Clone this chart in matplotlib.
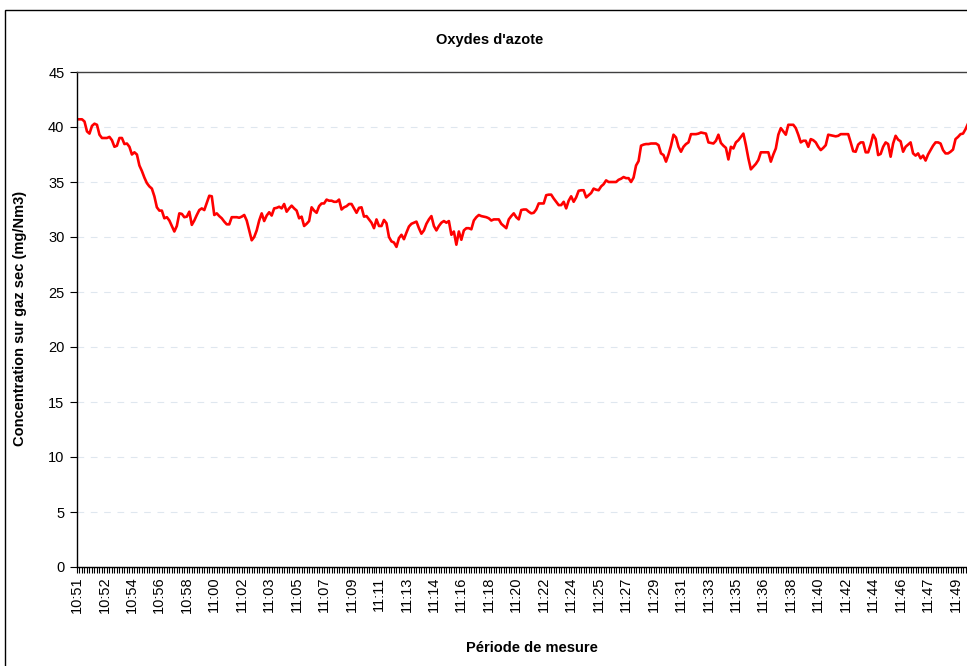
import numpy as np
import matplotlib
matplotlib.use("Agg")
import matplotlib.pyplot as plt
from matplotlib.patches import Rectangle

plt.rcParams['font.family'] = ['Liberation Sans', 'DejaVu Sans']

title = "Oxydes d'azote"
y_label = "Concentration sur gaz sec (mg/Nm3)"
x_label = "Période de mesure"

tick_labels = ["10:51", "10:52", "10:54", "10:56", "10:58", "11:00", "11:02", "11:03",
               "11:05", "11:07", "11:09", "11:11", "11:13", "11:14", "11:16", "11:18",
               "11:20", "11:22", "11:24", "11:25", "11:27", "11:29", "11:31", "11:33",
               "11:35", "11:36", "11:38", "11:40", "11:42", "11:44", "11:46", "11:47",
               "11:49"]
label_every = 11

nox = [
    40.7, 40.7, 40.7, 40.5, 39.6, 39.4, 40.1, 40.3, 40.2, 39.3,
    39.0, 39.0, 39.0, 39.1, 38.8, 38.2, 38.3, 39.0, 39.0, 38.45,
    38.5, 38.2, 37.5, 37.7, 37.5, 36.5, 36.0, 35.4, 34.9, 34.6,
    34.4, 33.7, 32.7, 32.4, 32.4, 31.7, 31.8, 31.5, 31.0, 30.5,
    31.0, 32.15, 32.1, 31.8, 31.85, 32.3, 31.1, 31.5, 32.0, 32.45,
    32.6, 32.45, 33.1, 33.75, 33.7, 32.0, 32.15, 31.9, 31.7, 31.4,
    31.15, 31.15, 31.8, 31.8, 31.8, 31.75, 31.85, 32.0, 31.5, 30.6,
    29.7, 30.0, 30.6, 31.5, 32.15, 31.45, 31.95, 32.25, 31.95, 32.6,
    32.65, 32.75, 32.6, 33.0, 32.3, 32.6, 32.85, 32.6, 32.4, 31.7,
    31.85, 31.0, 31.2, 31.45, 32.7, 32.4, 32.2, 32.8, 33.05, 33.05,
    33.4, 33.3, 33.3, 33.2, 33.2, 33.4, 32.5, 32.7, 32.8, 33.0,
    33.0, 32.6, 32.2, 32.65, 32.7, 31.85, 31.9, 31.6, 31.3, 30.8,
    31.6, 31.0, 31.0, 31.55, 31.25, 30.0, 29.6, 29.5, 29.1, 29.9,
    30.2, 29.8, 30.4, 30.95, 31.2, 31.3, 31.4, 30.8, 30.3, 30.6,
    31.2, 31.6, 31.9, 31.0, 30.6, 31.0, 31.3, 31.45, 31.3, 31.45,
    30.2, 30.5, 29.3, 30.5, 29.75, 30.6, 30.8, 30.8, 30.7, 31.5,
    31.8, 32.0, 31.9, 31.85, 31.8, 31.7, 31.5, 31.6, 31.6, 31.6,
    31.2, 31.0, 30.8, 31.6, 31.9, 32.15, 31.8, 31.6, 32.45, 32.5,
    32.5, 32.3, 32.15, 32.2, 32.5, 33.05, 33.05, 33.05, 33.8, 33.85,
    33.85, 33.5, 33.2, 32.9, 32.9, 33.2, 32.6, 33.3, 33.7, 33.2,
    33.6, 34.2, 34.25, 34.25, 33.6, 33.8, 34.0, 34.4, 34.3, 34.25,
    34.6, 34.8, 35.15, 35.0, 35.0, 35.0, 35.0, 35.2, 35.3, 35.45,
    35.35, 35.35, 35.0, 35.4, 36.5, 36.9, 38.3, 38.4, 38.45, 38.45,
    38.5, 38.5, 38.5, 38.35, 37.6, 37.45, 36.85, 37.5, 38.3, 39.3,
    39.05, 38.2, 37.75, 38.2, 38.45, 38.6, 39.35, 39.35, 39.35, 39.4,
    39.5, 39.45, 39.4, 38.6, 38.55, 38.5, 38.75, 39.3, 38.55, 38.3,
    38.1, 37.05, 38.2, 38.05, 38.6, 38.8, 39.1, 39.4, 38.35, 37.15,
    36.15, 36.4, 36.65, 37.0, 37.7, 37.7, 37.7, 37.7, 36.85, 37.5,
    38.05, 39.3, 39.9, 39.6, 39.3, 40.2, 40.2, 40.2, 39.9, 39.3,
    38.6, 38.75, 38.75, 38.2, 38.9, 38.8, 38.6, 38.2, 37.9, 38.1,
    38.35, 39.3, 39.25, 39.2, 39.15, 39.2, 39.35, 39.35, 39.35, 39.35,
    38.6, 37.8, 37.75, 38.4, 38.6, 38.6, 37.7, 37.7, 38.4, 39.3,
    38.9, 37.45, 37.55, 38.2, 38.6, 38.45, 37.3, 38.5, 39.2, 38.85,
    38.7, 37.75, 38.2, 38.4, 38.6, 37.6, 37.4, 37.6, 37.15, 37.4,
    36.95, 37.5, 37.9, 38.3, 38.6, 38.6, 38.5, 37.9, 37.6, 37.6,
    37.75, 37.95, 38.9, 39.1, 39.35, 39.4, 39.8, 40.3,
]

W, H = 967, 666
fig = plt.figure(figsize=(W / 100, H / 100), dpi=100)
fig.patch.set_facecolor('white')

# chart-area border
fig.patches.append(Rectangle((5 / W, -0.05), 1.1, (H - 10) / H + 0.05,
                             transform=fig.transFigure, fill=False,
                             edgecolor='black', linewidth=1.0))

left, right, top, bottom = 77, 968, 72, 567
ax = fig.add_axes([left / W, (H - bottom) / H, (right - left) / W, (bottom - top) / H])

x = np.arange(len(nox))
ax.plot(x, nox, color='#ff0000', linewidth=1.9, solid_joinstyle='round')

ax.set_xlim(0, len(nox) - 1)
ax.set_ylim(0, 45)
ax.set_yticks(np.arange(0, 46, 5))
ax.yaxis.grid(True, color='#dfe7ef', linestyle=(0, (6, 6)), linewidth=0.8)
ax.set_axisbelow(True)

ax.set_xticks(x, minor=True)
major_pos = np.arange(len(tick_labels)) * label_every
ax.set_xticks(major_pos)
ax.set_xticklabels(tick_labels, rotation=90, fontsize=10.5)
ax.tick_params(axis='x', which='both', direction='out', length=4, width=0.8, pad=3)
ax.tick_params(axis='y', direction='out', length=5, width=0.8, labelsize=10.5, pad=4)

for s in ['left', 'bottom']:
    ax.spines[s].set_color('black')
    ax.spines[s].set_linewidth(1.0)
ax.spines['top'].set_color('#404040')
ax.spines['top'].set_linewidth(1.0)
ax.spines['right'].set_visible(False)

fig.text(490 / W, 1 - 40 / H, title, ha='center', va='center', fontsize=10.5, fontweight='bold')
fig.text(20 / W, 1 - 318 / H, y_label, ha='center', va='center', rotation=90,
         fontsize=10.5, fontweight='bold')
fig.text(532 / W, 1 - 648 / H, x_label, ha='center', va='center', fontsize=10.5,
         fontweight='bold')

fig.savefig('out.png', dpi=100)
